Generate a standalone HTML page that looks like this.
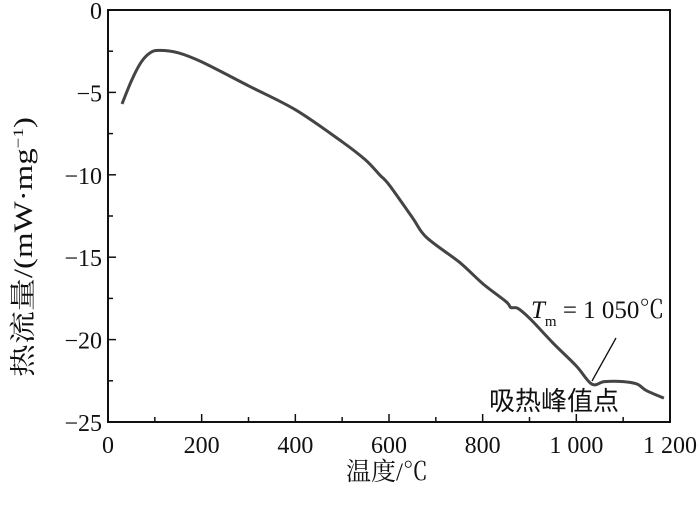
<!DOCTYPE html>
<html><head><meta charset="utf-8"><style>
body{margin:0;background:#fff}
svg text{font-family:"Liberation Serif","Noto Serif CJK SC",serif;fill:#111}
</style></head><body>
<svg width="700" height="501">
<g id="axes"></g>
<path id="curve" fill="none" stroke="#444" stroke-width="3" stroke-linejoin="round"/>
<line x1="616" y1="338" x2="592" y2="381" stroke="#111" stroke-width="1.3"/>
<text x="531" y="318" font-size="25"><tspan font-style="italic">T</tspan><tspan font-size="15" dy="8">m</tspan><tspan dy="-8"> = 1 050℃</tspan></text>
<text x="489" y="410" font-size="26" style="font-family:'Noto Sans CJK SC',sans-serif">吸热峰值点</text>
<text x="387" y="480" font-size="25" text-anchor="middle">温度/℃</text>
<text transform="translate(32,247) rotate(-90)" font-size="26" text-anchor="middle" textLength="260" lengthAdjust="spacingAndGlyphs">热流量/(mW·mg<tspan font-size="15" dy="-9">−1</tspan><tspan dy="9">)</tspan></text>
</svg>
<script>
const temps=[30,50,70,90,110,150,200,300,400,500,550,580,600,650,680,750,800,850,860,875,900,950,1000,1033,1060,1100,1130,1150,1187];
const heat=[-5.7,-4.3,-3.2,-2.6,-2.45,-2.6,-3.15,-4.6,-6.05,-8.0,-9.1,-10.0,-10.6,-12.6,-13.8,-15.3,-16.6,-17.7,-18.05,-18.1,-18.7,-20.2,-21.6,-22.7,-22.55,-22.55,-22.7,-23.1,-23.55];
const xTicks=[0,200,400,600,800,1000,1200];
const xTickLabels=["0","200","400","600","800","1 000","1 200"];
const yTicks=[0,-5,-10,-15,-20,-25];
const yTickLabels=["0","−5","−10","−15","−20","−25"];
const X0=108,X1=670,Y0=10,Y1=422;
const sx=v=>X0+(v/1200)*(X1-X0);
const sy=v=>Y0+(-v/25)*(Y1-Y0);
const NS="http://www.w3.org/2000/svg";
const ax=document.getElementById('axes');
function mk(t,a){const e=document.createElementNS(NS,t);for(const k in a)e.setAttribute(k,a[k]);ax.appendChild(e);return e;}
let fr=mk('rect',{x:X0,y:Y0,width:X1-X0,height:Y1-Y0,fill:'none',stroke:'#111','stroke-width':2});


for(let v=0;v<=1200;v+=100){const major=v%200===0;const t=mk('line',{x1:sx(v),x2:sx(v),y1:Y1,y2:Y1-(major?8:5),stroke:'#111','stroke-width':1.5});

}
for(let v=0;v>=-25;v-=2.5){const major=v%5===0;const t=mk('line',{x1:X0,x2:X0+(major?8:5),y1:sy(v),y2:sy(v),stroke:'#111','stroke-width':1.5});

}
xTicks.forEach((v,i)=>{const t=mk('text',{x:sx(v),y:Y1+31,'font-size':24,'text-anchor':'middle'});t.textContent=xTickLabels[i];

});
yTicks.forEach((v,i)=>{const t=mk('text',{x:X0-6,y:sy(v)+9,'font-size':24,'text-anchor':'end'});t.textContent=yTickLabels[i];

});
const P=temps.map((t,i)=>[sx(t),sy(heat[i])]);
let d='M'+P[0][0].toFixed(1)+','+P[0][1].toFixed(1);
for(let i=0;i<P.length-1;i++){const p0=P[Math.max(0,i-1)],p1=P[i],p2=P[i+1],p3=P[Math.min(P.length-1,i+2)];
const c1=[p1[0]+(p2[0]-p0[0])/6,p1[1]+(p2[1]-p0[1])/6],c2=[p2[0]-(p3[0]-p1[0])/6,p2[1]-(p3[1]-p1[1])/6];
d+='C'+c1.map(v=>v.toFixed(1))+' '+c2.map(v=>v.toFixed(1))+' '+p2.map(v=>v.toFixed(1));}
document.getElementById('curve').setAttribute('d',d);
</script>
</body></html>
